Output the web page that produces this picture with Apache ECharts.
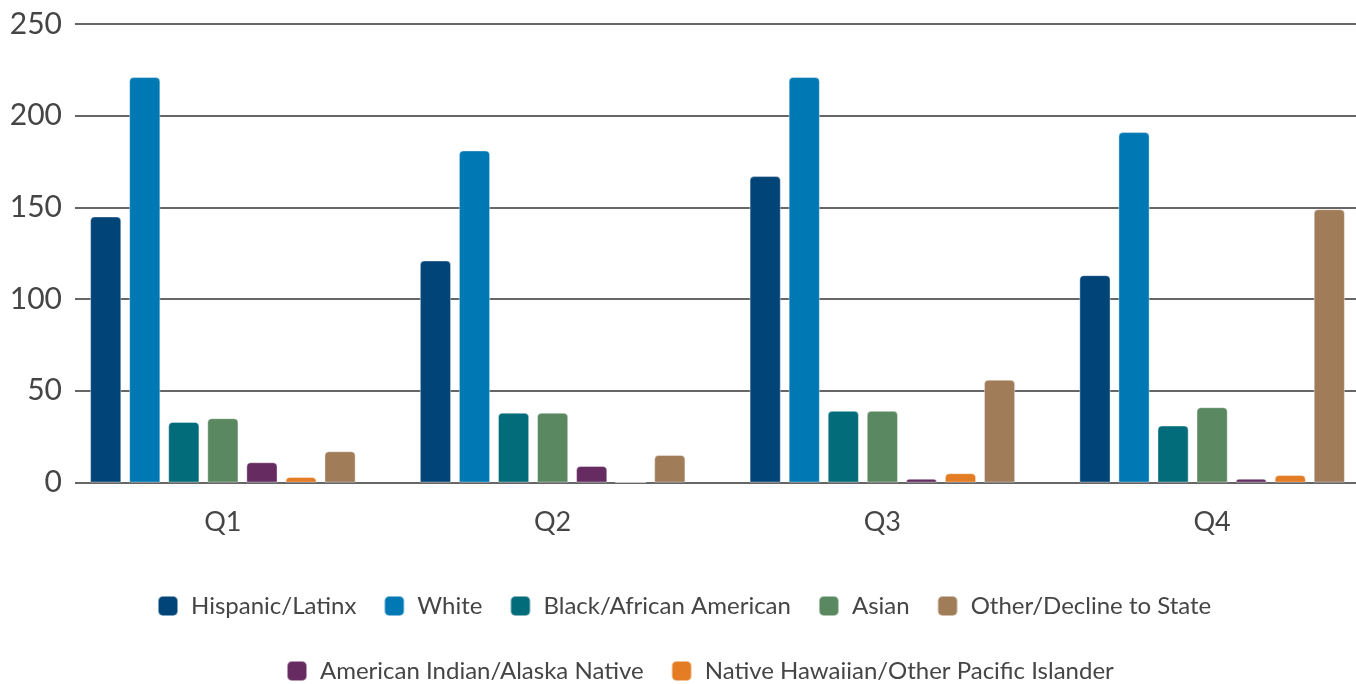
<!DOCTYPE html>
<html>
<head>
<meta charset="utf-8">
<script src="https://cdn.jsdelivr.net/npm/echarts@6/dist/echarts.min.js"></script>
<style>
html,body{margin:0;padding:0;background:#fff;overflow:hidden;}
#chart{width:1380px;height:684px;}
</style>
</head>
<body>
<div id="chart"></div>
<script>
const categories = ['Q1', 'Q2', 'Q3', 'Q4'];
const hispanic = [145, 121, 167, 113];
const white = [221, 181, 221, 191];
const black = [33, 38, 39, 31];
const asian = [35, 38, 39, 41];
const amIndian = [11, 9, 2, 2];
const nhpi = [3, 0, 5, 4];
const other = [17, 15, 56, 149];
const yTicks = { min: 0, max: 250, interval: 50 };

const names = {
  hispanic: 'Hispanic/Latinx',
  white: 'White',
  black: 'Black/African American',
  asian: 'Asian',
  amIndian: 'American Indian/Alaska Native',
  nhpi: 'Native Hawaiian/Other Pacific Islander',
  other: 'Other/Decline to State'
};
const colors = {
  hispanic: '#004478',
  white: '#0078B4',
  black: '#036C7A',
  asian: '#5A8860',
  amIndian: '#662C62',
  nhpi: '#E47C24',
  other: '#A07D58'
};
const seriesOrder = [
  ['hispanic', hispanic], ['white', white], ['black', black], ['asian', asian],
  ['amIndian', amIndian], ['nhpi', nhpi], ['other', other]
];

const FONT = 'Lato, "Open Sans", sans-serif';
const textColor = '#454545';

const chart = echarts.init(document.getElementById('chart'), null, { renderer: 'canvas' });
const legendCommon = {
  orient: 'horizontal',
  icon: 'roundRect',
  itemWidth: 20,
  itemHeight: 20,
  itemGap: 27,
  selectedMode: false,
  textStyle: { fontFamily: FONT, fontSize: 24, color: textColor, padding: [0, 0, 0, 8] }
};
chart.setOption({
  animation: false,
  backgroundColor: '#ffffff',
  grid: [
    { left: 75, right: 24, top: 24, bottom: 201.5 },
    { left: 58, width: 1319, top: 24, bottom: 201.5 }
  ],
  legend: [
    Object.assign({}, legendCommon, {
      left: 152,
      top: 589,
      data: [names.hispanic, names.white, names.black, names.asian, names.other]
    }),
    Object.assign({}, legendCommon, {
      left: 281,
      top: 654,
      data: [names.amIndian, names.nhpi]
    })
  ],
  xAxis: [
    { type: 'category', gridIndex: 0, data: categories, show: false },
    {
      type: 'category', gridIndex: 1, data: categories,
      axisLine: { show: false }, axisTick: { show: false },
      axisLabel: { fontFamily: FONT, fontSize: 27, color: textColor, margin: 26 }
    }
  ],
  yAxis: [
    {
      type: 'value', gridIndex: 0, min: yTicks.min, max: yTicks.max, interval: yTicks.interval,
      axisLine: { show: false }, axisTick: { show: false },
      axisLabel: { fontFamily: FONT, fontSize: 30, color: textColor, margin: 13 },
      splitLine: { lineStyle: { color: '#666666', width: 2 } }
    },
    {
      type: 'value', gridIndex: 1, min: yTicks.min, max: yTicks.max, interval: yTicks.interval,
      show: false, splitLine: { show: false }
    }
  ],
  series: seriesOrder.map(([key, arr]) => ({
    name: names[key],
    type: 'bar',
    xAxisIndex: 1,
    yAxisIndex: 1,
    data: arr,
    barWidth: 31,
    barGap: '26%',
    itemStyle: {
      color: colors[key],
      borderRadius: [4, 4, 0, 0],
      borderColor: 'rgba(255,255,255,0.5)',
      borderWidth: 0.8
    }
  }))
});
</script>
</body>
</html>
